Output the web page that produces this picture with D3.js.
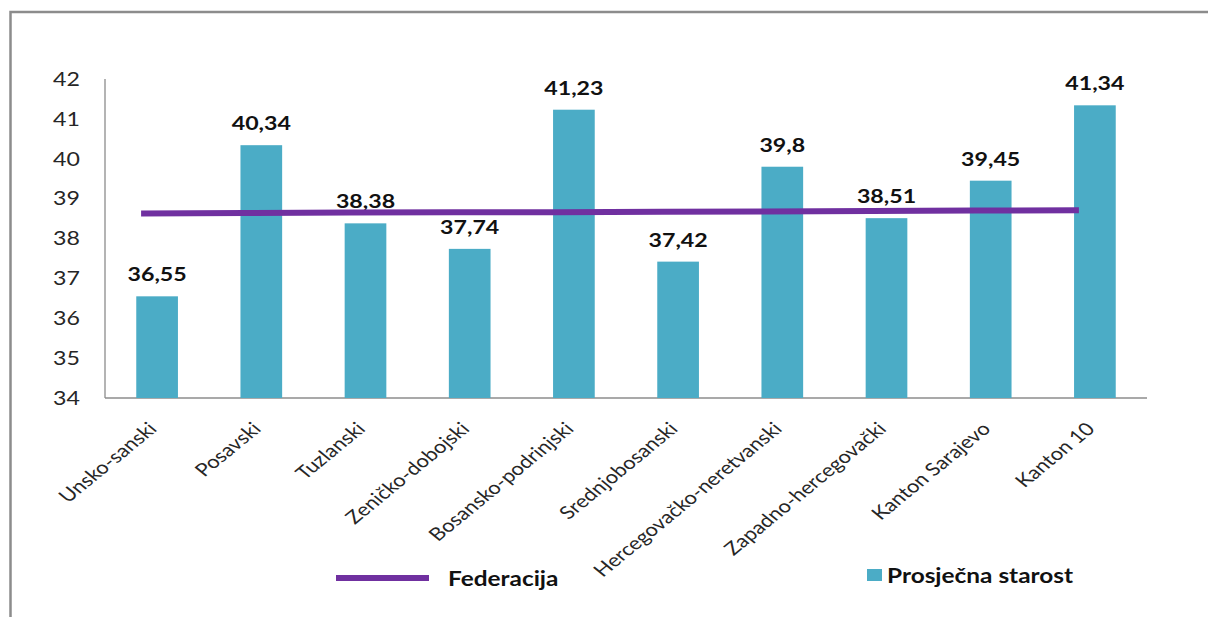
<html>
<head>
<meta charset="utf-8">
<script src="https://cdnjs.cloudflare.com/ajax/libs/d3/7.8.5/d3.min.js"></script>
<style>
  body { margin: 0; background: #fff; }
  text { font-family: Lato, "Open Sans", sans-serif; }
</style>
</head>
<body>
<svg id="chart" width="1208" height="617"></svg>
<script>

	// kantoni
	var categories = ["Unsko-sanski", "Posavski", "Tuzlanski", "Zeničko-dobojski", "Bosansko-podrinjski",
		"Srednjobosanski", "Hercegovačko-neretvanski", "Zapadno-hercegovački", "Kanton Sarajevo", "Kanton 10"]
	var prosjecnaStarost = [36.55, 40.34, 38.38, 37.74, 41.23, 37.42, 39.8, 38.51, 39.45, 41.34]
	var federacija = [38.63, 38.64, 38.65, 38.66, 38.66, 38.67, 38.68, 38.69, 38.70, 38.71]
	var yTicks = [34, 35, 36, 37, 38, 39, 40, 41, 42]
	var seriesNames = ["Federacija", "Prosječna starost"]

	var BAR = "#4BACC6"
	var LINE = "#7030A0"
	var STRETCH = 1.22   // original picture is stretched sideways

	var svg = d3.select("#chart")
	svg.append("rect").attr("width", 1208).attr("height", 617).attr("fill", "#fff")

	// frame
	svg.append("path")
	   .attr("d", "M10.5,617 L10.5,12 L1208,12")
	   .attr("fill", "none").attr("stroke", "#8c8c8c").attr("stroke-width", 2.5)

	var pLeft = 105, pRight = 1147, pTop = 79, pBottom = 398

	var x = d3.scaleBand().domain(categories).range([pLeft, pRight]).paddingInner(0.6).paddingOuter(0.3)
	var y = d3.scaleLinear().domain([34, 42]).range([pBottom, pTop])

	var fmt = v => String(v).replace(".", ",")

	// axes lines
	svg.append("line").attr("x1", pLeft).attr("x2", pLeft).attr("y1", pTop).attr("y2", pBottom)
	   .attr("stroke", "#8c8c8c").attr("stroke-width", 1.3)
	svg.append("line").attr("x1", pLeft).attr("x2", pRight).attr("y1", pBottom).attr("y2", pBottom)
	   .attr("stroke", "#8c8c8c").attr("stroke-width", 1.3)

	// y tick labels
	svg.selectAll(".ytick").data(yTicks).enter().append("text")
	   .attr("class", "ytick")
	   .attr("transform", d => "translate(80," + y(d) + ") scale(" + STRETCH + ",1)")
	   .attr("dy", "0.36em")
	   .attr("text-anchor", "end")
	   .attr("font-size", 19)
	   .attr("fill", "#262626")
	   .text(d => d)

	// bars
	svg.selectAll(".bar").data(categories).enter().append("rect")
	   .attr("class", "bar")
	   .attr("x", d => x(d))
	   .attr("width", x.bandwidth())
	   .attr("y", (d, i) => y(prosjecnaStarost[i]))
	   .attr("height", (d, i) => pBottom - y(prosjecnaStarost[i]))
	   .attr("fill", BAR)

	// data labels
	svg.selectAll(".lbl").data(categories).enter().append("text")
	   .attr("class", "lbl")
	   .attr("transform", (d, i) => "translate(" + (x(d) + x.bandwidth() / 2) + "," + (y(prosjecnaStarost[i]) - 15) + ") scale(" + STRETCH + ",1)")
	   .attr("text-anchor", "middle")
	   .attr("font-size", 19)
	   .attr("font-weight", "bold")
	   .attr("fill", "#111")
	   .text((d, i) => fmt(prosjecnaStarost[i]))

	// category labels
	svg.selectAll(".cat").data(categories).enter().append("text")
	   .attr("class", "cat")
	   .attr("transform", d => "translate(" + (x(d) + x.bandwidth() / 2 + 1) + ",430) scale(" + STRETCH + ",1) rotate(-45)")
	   .attr("text-anchor", "end")
	   .attr("font-size", 18)
	   .attr("fill", "#262626")
	   .text(d => d)

	// federacija line
	var line = d3.line()
	   .x((d, i) => x(categories[i]) + x.bandwidth() / 2 - 16)
	   .y(d => y(d))
	svg.append("path")
	   .datum(federacija)
	   .attr("d", line)
	   .attr("fill", "none")
	   .attr("stroke", LINE)
	   .attr("stroke-width", 6)

	// legend
	svg.append("line").attr("x1", 336).attr("x2", 429).attr("y1", 578).attr("y2", 578)
	   .attr("stroke", LINE).attr("stroke-width", 6)
	svg.append("text")
	   .attr("transform", "translate(448,586) scale(" + STRETCH + ",1)")
	   .attr("font-size", 20).attr("font-weight", "bold").attr("fill", "#111")
	   .text(seriesNames[0])
	svg.append("rect").attr("x", 867).attr("y", 569).attr("width", 15).attr("height", 12).attr("fill", BAR)
	svg.append("text")
	   .attr("transform", "translate(887,583) scale(" + STRETCH + ",1)")
	   .attr("font-size", 20).attr("font-weight", "bold").attr("fill", "#111")
	   .text(seriesNames[1])

</script>
</body>
</html>
